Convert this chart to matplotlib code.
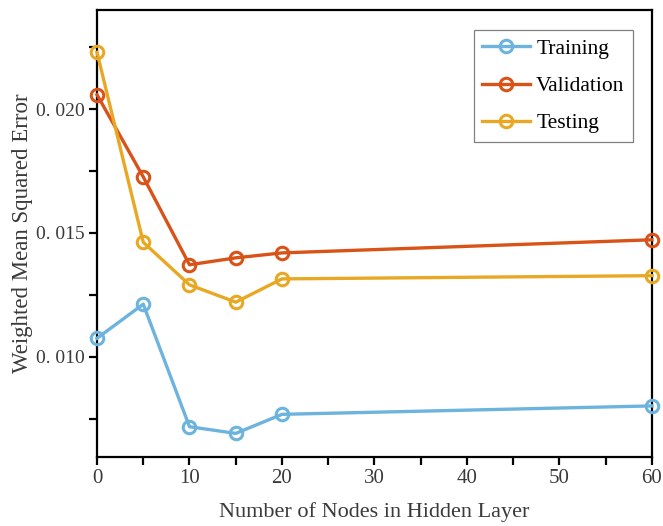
import matplotlib.pyplot as plt
from matplotlib.ticker import FixedLocator, FixedFormatter, MultipleLocator

nodes = [0, 5, 10, 15, 20, 60]
training = [0.01074, 0.01212, 0.00717, 0.00690, 0.00767, 0.00801]
validation = [0.02058, 0.01726, 0.01371, 0.01399, 0.01419, 0.01472]
testing = [0.02229, 0.01462, 0.01290, 0.01220, 0.01314, 0.01327]

ytick_vals = [0.010, 0.015, 0.020]
ytick_labels = ["0. 010", "0. 015", "0. 020"]

plt.rcParams['font.family'] = ['Liberation Serif', 'DejaVu Serif']

fig = plt.figure(figsize=(6.63, 5.26), dpi=100)
ax = fig.add_axes([0.1463, 0.1318, 0.8371, 0.8492])

style = dict(linewidth=2.4, marker='o', markersize=9, markerfacecolor='none',
             markeredgewidth=2.2, clip_on=False, zorder=3)
ax.plot(nodes, training, color='#6cb4de', label='Training', **style)
ax.plot(nodes, validation, color='#d95319', label='Validation', **style)
ax.plot(nodes, testing, color='#e9a824', label='Testing', **style)

ax.set_xlim(0, 60)
ax.set_ylim(0.00596, 0.0240)
ax.xaxis.set_major_locator(MultipleLocator(10))
ax.xaxis.set_minor_locator(MultipleLocator(5))
ax.yaxis.set_major_locator(FixedLocator(ytick_vals))
ax.yaxis.set_major_formatter(FixedFormatter(ytick_labels))
ax.yaxis.set_minor_locator(FixedLocator([0.0075, 0.0125, 0.0175, 0.0225]))

for s in ax.spines.values():
    s.set_linewidth(1.6)
ax.tick_params(which='both', direction='out', width=1.6, length=6, pad=3,
               labelsize=14, colors='black', labelcolor='#3a3a3a')
ax.tick_params(axis='x', labelsize=15)

ax.set_xlabel("Number of Nodes in Hidden Layer", fontsize=16, color='#3a3a3a', labelpad=10)
ax.set_ylabel("Weighted Mean Squared Error", fontsize=16.5, color='#3a3a3a')
ax.yaxis.set_label_coords(-0.115, 0.5)

leg = ax.legend(loc='upper right', bbox_to_anchor=(0.966, 0.955), fontsize=15.5, fancybox=False,
                edgecolor='#808080', framealpha=1, handlelength=2.2, handletextpad=0.3,
                labelspacing=0.8, borderpad=0.4, borderaxespad=0)
leg.get_frame().set_linewidth(0.9)

fig.savefig("out.png", dpi=100)
